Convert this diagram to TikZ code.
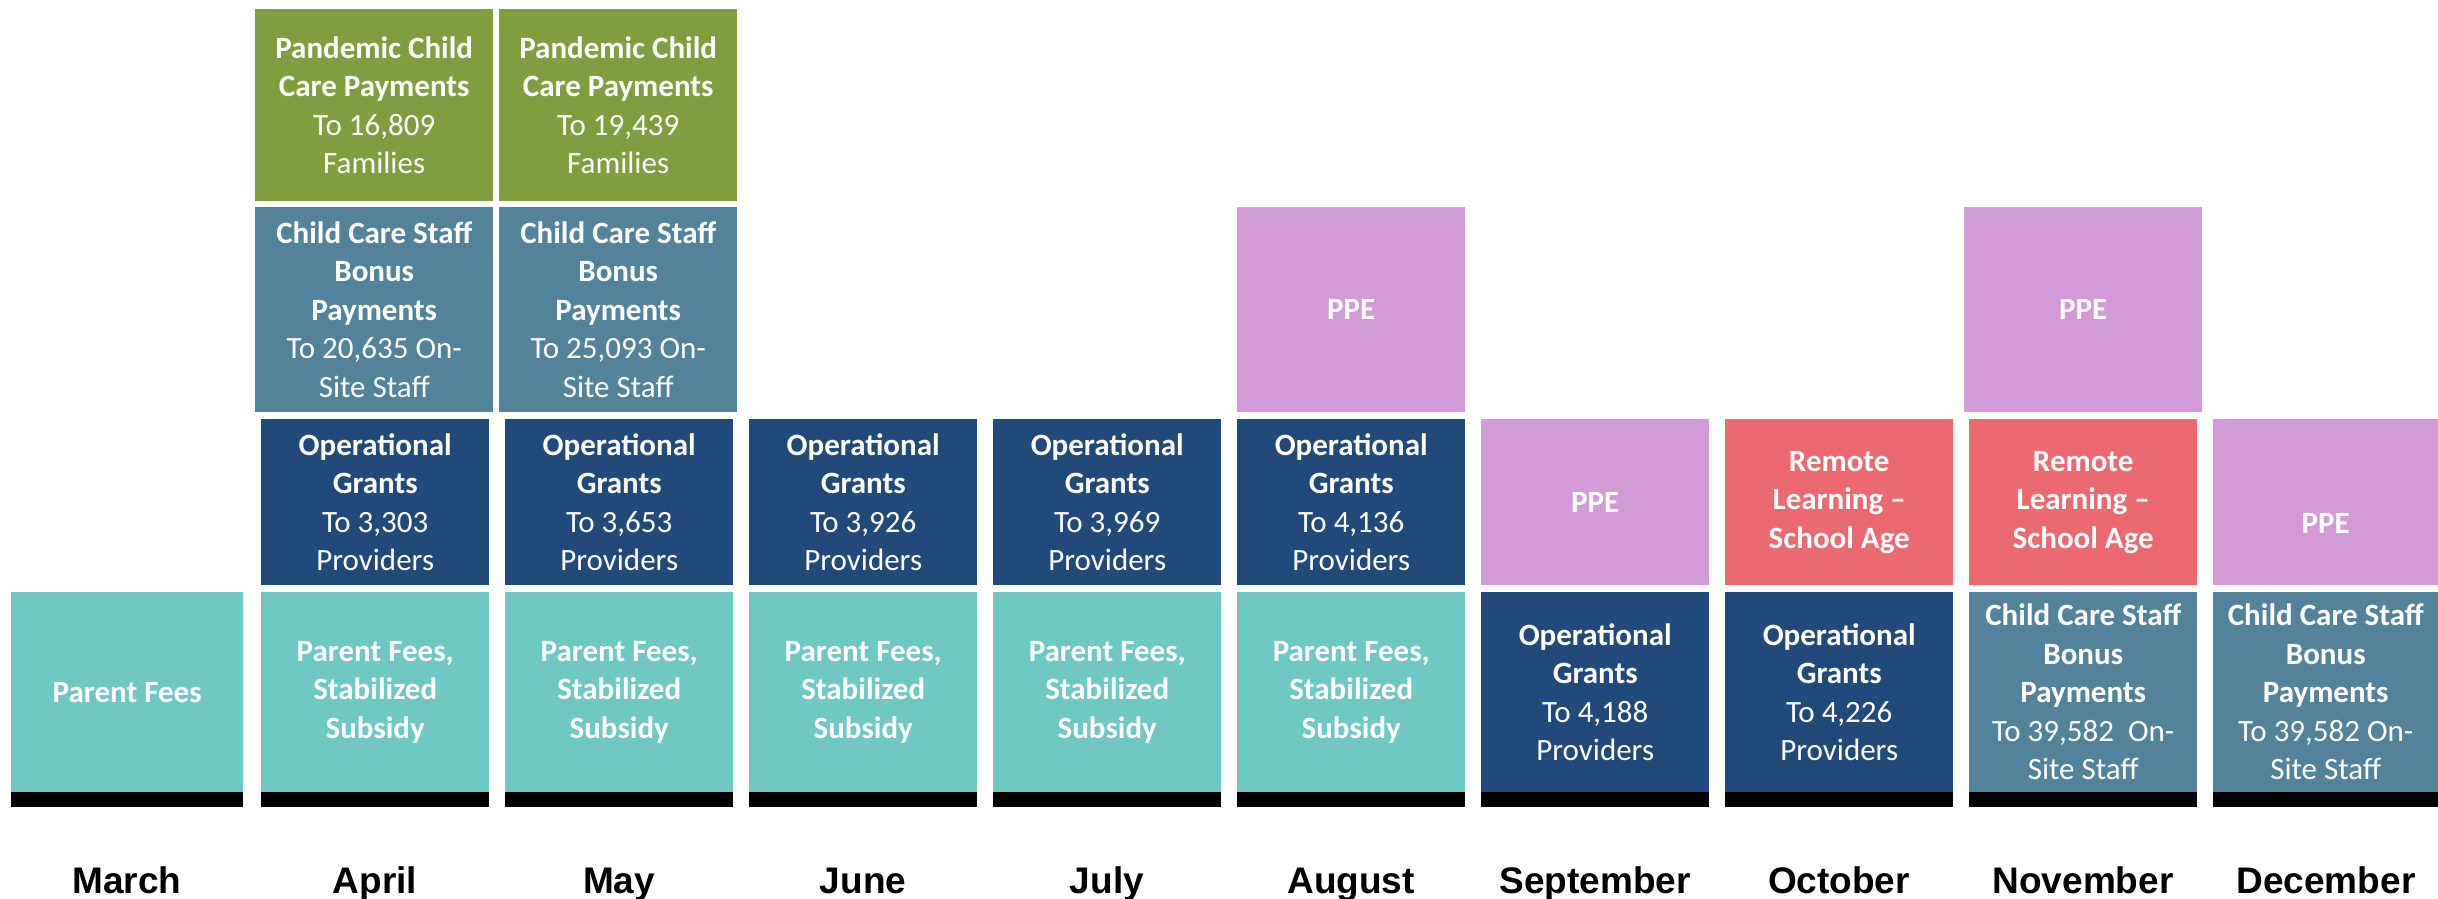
\documentclass[tikz,border=0pt]{standalone}
\usepackage{fontspec}
\setmainfont{Carlito}
\newfontfamily\monthfont{Liberation Sans}

\definecolor{paygreen}{RGB}{128,158,64}
\definecolor{bonusblue}{RGB}{82,131,154}
\definecolor{opsnavy}{RGB}{33,73,122}
\definecolor{feeteal}{RGB}{112,200,196}
\definecolor{ppelilac}{RGB}{210,154,214}
\definecolor{remotered}{RGB}{235,106,114}

\tikzset{
  cell/.style={anchor=north west, inner sep=0pt, align=center, text=white,
    font=\fontsize{31}{38.5}\selectfont, minimum width=228pt},
  paybox/.style={cell, fill=paygreen, minimum width=238pt, minimum height=192pt},
  bonusbox/.style={cell, fill=bonusblue, minimum height=205pt},
  opsbox/.style={cell, fill=opsnavy, minimum height=166pt},
  ppebox/.style={cell, fill=ppelilac, minimum height=166pt},
  remotebox/.style={cell, fill=remotered, minimum height=166pt},
  feebox/.style={cell, fill=feeteal, minimum height=200pt},
  monthbar/.style={anchor=north west, fill=black, inner sep=0pt,
    minimum width=228pt, minimum height=15pt},
  month/.style={anchor=base, inner sep=0pt,
    font=\monthfont\bfseries\fontsize{37}{40}\selectfont}
}

\begin{document}
\begin{tikzpicture}[x=1pt,y=-1pt]
  % Fix the page size
  \useasboundingbox (0,0) rectangle (2438,899);

  % Draw pandemic payments
  \node[paybox] (aprpay) at (255,9) {\textbf{Pandemic Child}\\\textbf{Care Payments}\\To 16,809\\Families};
  \node[paybox] (maypay) at (499,9) {\textbf{Pandemic Child}\\\textbf{Care Payments}\\To 19,439\\Families};

  % Draw staff bonus payments
  \node[bonusbox, minimum width=238pt] (aprbonus) at (255,207) {\textbf{Child Care Staff}\\\textbf{Bonus}\\\textbf{Payments}\\To 20,635 On-\\Site Staff};
  \node[bonusbox, minimum width=238pt] (maybonus) at (499,207) {\textbf{Child Care Staff}\\\textbf{Bonus}\\\textbf{Payments}\\To 25,093 On-\\Site Staff};
  \node[ppebox, minimum height=205pt] (augppe) at (1237,207) {\textbf{PPE}};
  \node[ppebox, minimum height=205pt, minimum width=238pt] (novppe) at (1964,207) {\textbf{PPE}};

  % Draw operational grants row
  \node[opsbox] (aprops) at (261,419) {\textbf{Operational}\\\textbf{Grants}\\To 3,303\\Providers};
  \node[opsbox] (mayops) at (505,419) {\textbf{Operational}\\\textbf{Grants}\\To 3,653\\Providers};
  \node[opsbox] (junops) at (749,419) {\textbf{Operational}\\\textbf{Grants}\\To 3,926\\Providers};
  \node[opsbox] (julops) at (993,419) {\textbf{Operational}\\\textbf{Grants}\\To 3,969\\Providers};
  \node[opsbox] (augops) at (1237,419) {\textbf{Operational}\\\textbf{Grants}\\To 4,136\\Providers};
  \node[ppebox] (sepppe) at (1481,419) {\textbf{PPE}};
  \node[remotebox] (octremote) at (1725,419) {\textbf{Remote}\\\textbf{Learning –}\\\textbf{School Age}};
  \node[remotebox] (novremote) at (1969,419) {\textbf{Remote}\\\textbf{Learning –}\\\textbf{School Age}};
  \node[ppebox, minimum width=225pt] (decppe) at (2213,419) {};
  \node[text=white, font=\fontsize{31}{38.5}\selectfont] (decppetxt) at ([yshift=-21pt]decppe.center) {\textbf{PPE}};

  % Draw bottom row
  \node[feebox, minimum width=232pt] (marfee) at (11,592) {\textbf{Parent Fees}};
  \node[feebox] (aprfee) at (261,592) {\textbf{Parent Fees,}\\\textbf{Stabilized}\\\textbf{Subsidy}};
  \node[feebox] (mayfee) at (505,592) {\textbf{Parent Fees,}\\\textbf{Stabilized}\\\textbf{Subsidy}};
  \node[feebox] (junfee) at (749,592) {\textbf{Parent Fees,}\\\textbf{Stabilized}\\\textbf{Subsidy}};
  \node[feebox] (julfee) at (993,592) {\textbf{Parent Fees,}\\\textbf{Stabilized}\\\textbf{Subsidy}};
  \node[feebox] (augfee) at (1237,592) {\textbf{Parent Fees,}\\\textbf{Stabilized}\\\textbf{Subsidy}};
  \node[opsbox, minimum height=200pt] (sepops) at (1481,592) {\textbf{Operational}\\\textbf{Grants}\\To 4,188\\Providers};
  \node[opsbox, minimum height=200pt] (octops) at (1725,592) {\textbf{Operational}\\\textbf{Grants}\\To 4,226\\Providers};
  \node[bonusbox, minimum height=200pt] (novbonus) at (1969,592) {\textbf{Child Care Staff}\\\textbf{Bonus}\\\textbf{Payments}\\To 39,582~ On-\\Site Staff};
  \node[bonusbox, minimum height=200pt, minimum width=225pt] (decbonus) at (2213,592) {\textbf{Child Care Staff}\\\textbf{Bonus}\\\textbf{Payments}\\To 39,582 On-\\Site Staff};

  % Draw black bars
  \node[monthbar, minimum width=232pt] (marbar) at (11,792) {};
  \node[monthbar] (aprbar) at (261,792) {};
  \node[monthbar] (maybar) at (505,792) {};
  \node[monthbar] (junbar) at (749,792) {};
  \node[monthbar] (julbar) at (993,792) {};
  \node[monthbar] (augbar) at (1237,792) {};
  \node[monthbar] (sepbar) at (1481,792) {};
  \node[monthbar] (octbar) at (1725,792) {};
  \node[monthbar] (novbar) at (1969,792) {};
  \node[monthbar, minimum width=225pt] (decbar) at (2213,792) {};

  % Draw month names
  \node[month] (march) at (127,893) {March};
  \node[month] (april) at (375,893) {April};
  \node[month] (may) at (619,893) {May};
  \node[month] (june) at (863,893) {June};
  \node[month] (july) at (1107,893) {July};
  \node[month] (august) at (1351,893) {August};
  \node[month] (september) at (1595,893) {September};
  \node[month] (october) at (1839,893) {October};
  \node[month] (november) at (2083,893) {November};
  \node[month] (december) at (2326,893) {December};
\end{tikzpicture}
\end{document}
